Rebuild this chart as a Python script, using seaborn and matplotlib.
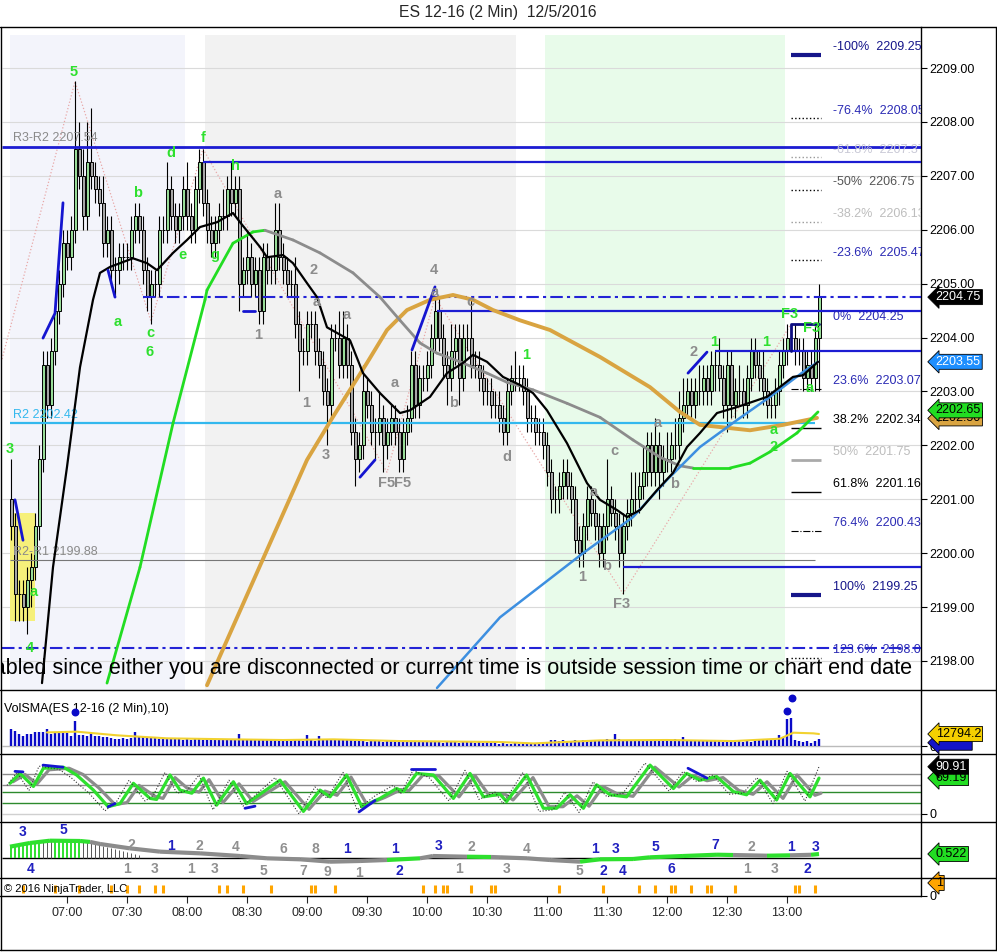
import matplotlib
matplotlib.use("Agg")
import matplotlib.pyplot as plt
import matplotlib.transforms as mtransforms
from matplotlib.lines import Line2D
from matplotlib.ticker import FormatStrFormatter
import numpy as np
import pandas as pd
import seaborn as sns

# ---------------- data (2 min bars 06:32 .. 13:16, index 0..202) ----------------
TICK = 0.25
first_open = 2201.00
closes = [
    2200.50, 2199.25, 2199.25, 2199.00, 2199.50, 2199.75, 2200.50, 2201.75, 2203.50, 2202.75,
    2203.75, 2204.50, 2205.00, 2205.75, 2205.50, 2206.00, 2207.50, 2207.00, 2206.25, 2207.25,
    2207.00, 2206.75, 2206.50, 2205.75, 2206.00, 2205.25, 2205.25, 2205.50, 2205.50, 2205.50,
    2206.00, 2206.25, 2206.00, 2205.25, 2204.75, 2205.00, 2205.00, 2206.00, 2206.00, 2206.75,
    2206.25, 2206.00, 2206.25, 2206.75, 2206.25, 2206.00, 2206.75, 2207.25, 2206.50, 2206.00,
    2205.75, 2206.00, 2206.25, 2206.25, 2206.75, 2206.50, 2206.75, 2205.00, 2205.25, 2205.50,
    2205.00, 2205.25, 2204.50, 2205.50, 2205.25, 2205.25, 2206.00, 2205.50, 2205.25, 2205.00,
    2205.00, 2204.25, 2203.75, 2203.75, 2204.25, 2204.25, 2203.75, 2203.50, 2203.00, 2202.75,
    2204.00, 2204.00, 2203.50, 2204.00, 2203.50, 2202.25, 2201.75, 2202.00, 2203.00, 2202.75,
    2202.25, 2202.25, 2202.50, 2202.00, 2202.25, 2202.50, 2202.25, 2201.75, 2202.25, 2202.50,
    2203.50, 2202.75, 2203.25, 2203.25, 2203.50, 2204.00, 2204.50, 2204.00, 2203.50, 2203.25,
    2203.75, 2204.00, 2203.25, 2204.00, 2204.00, 2203.50, 2203.50, 2203.25, 2203.00, 2203.00,
    2202.75, 2202.75, 2202.50, 2202.25, 2203.00, 2203.25, 2203.25, 2203.25, 2203.00, 2202.50,
    2202.50, 2202.25, 2202.25, 2202.00, 2201.50, 2201.00, 2201.00, 2201.25, 2201.50, 2201.25,
    2201.00, 2200.25, 2200.00, 2200.50, 2201.00, 2200.75, 2200.50, 2200.00, 2200.50, 2201.00,
    2200.75, 2200.50, 2200.00, 2200.50, 2200.75, 2201.00, 2201.00, 2201.25, 2201.50, 2202.00,
    2201.50, 2202.00, 2201.50, 2201.75, 2201.75, 2202.00, 2202.00, 2202.50, 2202.75, 2203.00,
    2202.75, 2203.00, 2203.00, 2203.25, 2203.00, 2203.50, 2203.50, 2203.25, 2202.75, 2203.50,
    2202.75, 2203.00, 2203.00, 2202.75, 2203.25, 2203.75, 2203.50, 2203.25, 2203.00, 2202.75,
    2202.75, 2203.00, 2203.50, 2203.75, 2204.00, 2204.00, 2203.75, 2203.75, 2203.25, 2203.50,
    2203.25, 2204.00, 2204.75,
]
# wick length above / below the body, in ticks
up_ticks = [
    3, 1, 1, 1, 1, 1, 1, 1, 1, 1,  1, 1, 1, 1, 1, 1, 5, 2, 2, 3,
    4, 1, 1, 2, 1, 1, 1, 1, 1, 1,  1, 1, 1, 1, 1, 1, 1, 1, 1, 2,
    1, 1, 1, 1, 2, 1, 1, 1, 1, 1,  1, 1, 1, 2, 1, 2, 1, 1, 1, 2,
    1, 1, 1, 1, 1, 1, 2, 2, 1, 1,  1, 2, 1, 1, 1, 1, 1, 1, 1, 1,
    1, 1, 2, 2, 1, 1, 1, 1, 2, 1,  1, 1, 2, 1, 1, 1, 1, 1, 1, 1,
    1, 1, 1, 1, 1, 1, 1, 1, 1, 1,  2, 1, 1, 1, 1, 3, 1, 1, 1, 1,
    1, 1, 1, 1, 1, 1, 2, 1, 1, 1,  1, 1, 1, 1, 1, 1, 1, 1, 1, 1,
    1, 1, 1, 1, 1, 1, 1, 1, 1, 3,  1, 1, 1, 1, 1, 2, 2, 1, 2, 1,
    1, 2, 1, 1, 2, 1, 2, 2, 2, 1,  1, 1, 2, 1, 1, 1, 1, 2, 1, 1,
    1, 1, 2, 1, 1, 1, 1, 1, 2, 1,  1, 1, 1, 1, 1, 1, 1, 1, 1, 1,
    1, 1, 1,
]
dn_ticks = [
    1, 2, 2, 1, 2, 2, 1, 1, 1, 1,  1, 1, 1, 1, 1, 1, 1, 1, 1, 1,
    1, 1, 1, 1, 1, 1, 2, 1, 1, 1,  1, 1, 1, 1, 1, 2, 1, 1, 1, 1,
    1, 1, 1, 1, 1, 1, 1, 1, 1, 1,  1, 1, 1, 1, 1, 1, 1, 2, 1, 1,
    1, 1, 1, 1, 1, 1, 1, 1, 1, 1,  1, 1, 3, 1, 1, 1, 1, 1, 1, 3,
    1, 1, 1, 1, 1, 1, 2, 1, 1, 1,  1, 2, 1, 2, 1, 1, 1, 1, 1, 1,
    1, 1, 1, 1, 1, 1, 1, 1, 1, 2,  1, 1, 2, 1, 1, 1, 1, 1, 1, 1,
    1, 1, 1, 1, 1, 1, 1, 1, 1, 1,  1, 1, 1, 1, 1, 1, 1, 1, 1, 1,
    1, 1, 1, 1, 1, 1, 1, 1, 1, 1,  1, 1, 1, 3, 1, 1, 1, 1, 1, 1,
    1, 1, 2, 1, 1, 1, 1, 1, 1, 1,  1, 1, 1, 1, 1, 1, 2, 1, 1, 2,
    1, 1, 1, 1, 1, 1, 1, 1, 1, 1,  1, 1, 1, 1, 1, 1, 1, 1, 1, 1,
    1, 1, 4,
]
volume = [
    18100, 16000, 12800, 10700, 12800, 12800, 14900, 14900, 14900, 18100,
    12800, 14900, 14900, 16000, 13900, 10700, 26700, 12000, 11500, 11000,
    12500, 10500, 11000, 10000, 9500, 8500, 7500, 8000, 8500, 7500,
    9000, 14900, 9500, 10000, 8500, 9000, 10000, 8000, 7500, 8500,
    7000, 8000, 7500, 6500, 7000, 6000, 7000, 7500, 6500, 7000,
    6000, 6500, 7000, 6000, 7500, 6500, 7000, 13000, 7500, 7000,
    8000, 7000, 6500, 7000, 6000, 7500, 7000, 6000, 5500, 6500,
    5500, 6000, 6500, 5500, 12000, 6000, 5500, 11000, 7000, 6500,
    8000, 7000, 7500, 6000, 6500, 6000, 5000, 6000, 5500, 4500,
    5500, 5000, 6000, 4500, 5000, 5500, 5000, 4500, 5000, 4000,
    5500, 4500, 5000, 4000, 4500, 5500, 4000, 4500, 3500, 5000,
    4000, 4500, 3500, 4000, 5000, 4500, 3500, 4000, 3000, 4500,
    3500, 4000, 2500, 3000, 2000, 2500, 3000, 2000, 2500, 3500,
    2000, 2500, 3000, 2000, 3500, 6500, 6000, 5500, 6000, 5000,
    5500, 6000, 5000, 6500, 5500, 5000, 6000, 5500, 6000, 7000,
    6000, 12400, 7000, 6500, 6000, 5500, 5000, 6000, 5500, 5000,
    6500, 5500, 5000, 6000, 5500, 6500, 7000, 6000, 10000, 6500,
    5500, 6000, 5000, 6500, 5500, 6000, 5000, 5500, 4500, 6000,
    5000, 4500, 5500, 4000, 5000, 4500, 5500, 6000, 7500, 8000,
    7500, 8500, 11400, 9500, 28400, 30000, 6700, 5300, 4300, 5300,
    3600, 5300, 7500,
]
vol_dot_bar = [16, 194, 195.25]
vol_dot_val = [36200, 37600, 51000]
vsma_bar = [9, 16.4, 26.5, 39, 55.6, 68, 80.6, 97, 122, 130.6, 134.75, 147.25, 164, 180.6, 192.25, 195.6, 200.6, 202]
vsma_val = [14500, 15300, 11400, 8200, 7100, 6400, 7100, 5300, 4300, 2800, 3600, 6000, 6400, 5300, 7800, 14200, 13500, 12800]

# indicator lines (bar index, price)
ema_bar = [7.75, 10.5, 14, 17.25, 20.5, 22.25, 24.75, 30.5, 34, 36.5, 40.5, 44, 47.25, 51.5, 55.5, 57.25,
           62.25, 64, 68, 70.5, 74, 76.5, 79, 84.75, 88, 92.25, 97.25, 99.75, 104.75, 109, 113, 115.5,
           119, 123, 127.25, 130.5, 134, 139, 144, 147.25, 151.5, 154, 157.25, 161.5, 165.5, 169,
           172.25, 176.5, 181.5, 189, 195.5, 198, 201.75]
ema_px = [2197.59, 2199.74, 2201.60, 2203.45, 2204.70, 2205.20, 2205.31, 2205.47, 2205.38, 2205.25,
          2205.57, 2205.81, 2206.05, 2206.14, 2206.31, 2206.14, 2205.68, 2205.49, 2205.53, 2205.38,
          2205.01, 2204.75, 2204.19, 2203.95, 2203.34, 2202.97, 2202.60, 2202.65, 2202.90, 2203.34,
          2203.53, 2203.68, 2203.55, 2203.27, 2203.12, 2202.97, 2202.65, 2202.04, 2201.30, 2200.99,
          2200.80, 2200.67, 2200.80, 2201.17, 2201.49, 2201.97, 2202.23, 2202.60, 2202.71, 2202.90,
          2203.27, 2203.30, 2203.55]
ma_bar = [24, 32.25, 40.5, 48.5, 49, 55.5, 60.5, 63.5, 70.5, 77.25, 85.5, 92.25, 97.25, 102.25, 106.5,
          112.25, 119, 124, 130.5, 139, 147.25, 155.5, 162.25, 167.25, 170.5, 179.75, 184.75, 189.75,
          196.5, 201.75]
ma_px = [2197.59, 2199.74, 2202.41, 2204.70, 2204.88, 2205.75, 2205.96, 2205.99, 2205.81, 2205.57,
         2205.20, 2204.75, 2204.32, 2203.90, 2203.71, 2203.55, 2203.34, 2203.17, 2203.03, 2202.78,
         2202.52, 2202.10, 2201.78, 2201.62, 2201.58, 2201.58, 2201.67, 2201.88, 2202.23, 2202.62]
ma_rising = [1, 1, 1, 1, 1, 1, 1, 0, 0, 0, 0, 0, 0, 0, 0, 0, 0, 0, 0, 0, 0, 0, 0, 0, 1, 1, 1, 1, 1]
gold_bar = [49, 64, 74, 80.5, 89, 94, 99, 104.75, 110.5, 115.5, 120.5, 127.25, 134.75, 147.25,
            159.75, 167.25, 172.25, 184.75, 193, 201.5]
gold_px = [2197.55, 2200.06, 2201.73, 2202.53, 2203.53, 2204.14, 2204.51, 2204.70, 2204.79, 2204.70,
           2204.51, 2204.32, 2204.14, 2203.64, 2203.08, 2202.62, 2202.38, 2202.28, 2202.38, 2202.51]
lb_bar = [106.5, 122.25, 143, 155.5, 164, 172.25, 181.5, 189.75, 198, 201.75]
lb_px = [2197.50, 2198.81, 2200.00, 2200.67, 2201.36, 2201.97, 2202.47, 2202.90, 2203.36, 2203.55]
zig_bar = [-2.25, 16, 35, 48, 94, 106, 153, 195]
zig_px = [2203.60, 2208.75, 2204.30, 2207.50, 2201.50, 2204.75, 2199.25, 2204.25]
trend_segs = [((1, 3), (2200.99, 2200.24)), ((8, 11, 13), (2203.99, 2204.45, 2206.50)),
              ((24.25, 26), (2205.25, 2204.75)), ((58, 61), (2204.49, 2204.49)),
              ((87.25, 91), (2201.41, 2201.73)), ((100.25, 106), (2203.77, 2204.94)),
              ((169.25, 174), (2203.34, 2203.73))]

green_labels = [("5", 15.75, 2208.93), ("3", -0.25, 2201.93), ("a", 5.75, 2199.28), ("4", 4.75, 2198.24),
                ("a", 26.75, 2204.29), ("c", 34.75, 2204.08), ("6", 34.75, 2203.73), ("b", 31.75, 2206.68),
                ("d", 40, 2207.42), ("e", 42.75, 2205.53), ("f", 48, 2207.70), ("g", 51, 2205.53),
                ("h", 56, 2207.18), ("1", 128.75, 2203.68), ("1", 175.75, 2203.92), ("1", 188.75, 2203.92),
                ("F3", 194.75, 2204.44), ("F3", 200.25, 2204.18), ("a", 199.75, 2203.06),
                ("a", 190.75, 2202.28), ("2", 190.75, 2201.97)]
gray_labels = [("a", 66.75, 2206.66), ("2", 75.75, 2205.25), ("a", 76.5, 2204.66), ("1", 61.75, 2204.05),
               ("a", 84, 2204.42), ("1", 73.75, 2202.79), ("3", 78.75, 2201.82), ("a", 96, 2203.16),
               ("F5", 94, 2201.30), ("F5", 98, 2201.30), ("4", 105.75, 2205.25), ("a", 106, 2204.84),
               ("c", 114.75, 2204.66), ("b", 110.75, 2202.79), ("d", 124, 2201.78), ("c", 150.75, 2201.90),
               ("a", 145.75, 2201.13), ("1", 142.75, 2199.56), ("b", 149, 2199.76), ("F3", 152.75, 2199.06),
               ("a", 161.75, 2202.41), ("b", 166, 2201.28), ("2", 170.75, 2203.73)]

NAVY, FIBBLUE = "#16168a", "#2a2ab4"
fib_text = [("-100%  2209.25", 2209.39, NAVY), ("-76.4%  2208.05", 2208.20, FIBBLUE),
            ("-61.8%  2207.37", 2207.48, "#c9c9d6"), ("-50%  2206.75", 2206.88, "#555555"),
            ("-38.2%  2206.13", 2206.29, "#bdbdbd"), ("-23.6%  2205.47", 2205.57, FIBBLUE),
            ("0%  2204.25", 2204.38, FIBBLUE), ("23.6%  2203.07", 2203.19, FIBBLUE),
            ("38.2%  2202.34", 2202.47, "black"), ("50%  2201.75", 2201.88, "#bdbdbd"),
            ("61.8%  2201.16", 2201.28, "black"), ("76.4%  2200.43", 2200.56, FIBBLUE),
            ("100%  2199.25", 2199.37, NAVY), ("123.6%  2198.07", 2198.20, FIBBLUE)]
fib_marks = [(2209.24, "-", NAVY, 3), (2208.07, ":", "black", 1), (2207.35, ":", "#999999", 1),
             (2206.74, ":", "black", 1), (2206.14, ":", "#999999", 1), (2205.44, ":", "black", 1),
             (2203.04, "-.", "black", 0.8), (2202.32, "-", "black", 1), (2201.73, "-", "#aaaaaa", 2),
             (2201.13, "-", "black", 1), (2200.41, "-.", "black", 0.8), (2199.22, "-", NAVY, 3),
             (2198.05, ":", "black", 1)]

# stochastics (bar, value)
st_green_bar = [-0.25, 2.25, 5.6, 8.1, 13.1, 16.4, 20.6, 24.3, 27.25, 30.6, 34.75, 36.4, 39.75, 42.25, 45.2,
                48.1, 51.4, 55.6, 58.9, 67.25, 73.1, 77.25, 79.75, 83.9, 87.7, 92.25, 96.4, 98.1, 101.4,
                105.6, 110.6, 114.75, 118.1, 122.25, 123.9, 128.9, 133.1, 136.4, 139.75, 143.1, 146.4,
                149.75, 153.9, 159.75, 165.6, 168.9, 172.25, 176.4, 180.6, 183.9, 187.25, 191.4, 194.75,
                199.75, 202]
st_green = [59, 78, 53, 88, 90, 75, 46, 14, 20, 59, 30, 28, 75, 46, 40, 69, 17, 62, 20, 65, 5, 46, 33, 75,
            14, 30, 49, 43, 78, 75, 30, 78, 33, 38, 24, 75, 11, 11, 37, 11, 56, 37, 33, 94, 49, 78, 65, 72,
            43, 37, 65, 27, 78, 33, 69]
st_gray_bar = [0.5, 3.5, 6.5, 9.5, 14.5, 18, 22, 26, 29, 32, 36, 38, 41, 44, 47, 49.5, 53, 57, 60.5, 68.5,
               74.5, 78.5, 81.5, 85, 89, 93.5, 97.5, 99.5, 103, 107, 112, 116, 119.5, 123.5, 125.5, 130.5,
               134.5, 138, 141.5, 144.5, 148, 151.5, 155.5, 161, 167, 170.5, 174, 178, 182, 185.5, 189,
               193, 196.5, 201, 202.5]
st_gray = [62, 76, 58, 85, 88, 76, 50, 18, 22, 55, 34, 30, 70, 50, 42, 66, 22, 58, 24, 62, 9, 44, 36, 71,
           18, 32, 47, 45, 75, 73, 33, 74, 36, 38, 27, 70, 14, 14, 35, 15, 53, 39, 34, 90, 52, 74, 64, 70,
           45, 38, 62, 30, 75, 36, 40]
st_fast_bar = [-1, 1.5, 4.5, 7, 12, 15, 19.5, 23.5, 26.5, 29.5, 33.5, 35.5, 38.5, 41.5, 44, 47, 50.5, 54.5,
               58, 66, 72, 76, 79, 83, 86.5, 91, 95.5, 97.5, 100.5, 104.5, 109.5, 113.5, 117, 121, 123, 128,
               132, 135.5, 138.5, 142, 145.5, 149, 153, 158.5, 164.5, 168, 171.5, 175.5, 179.5, 183, 186.5,
               190.5, 194, 198.5, 202]
st_fast = [55, 80, 45, 92, 86, 70, 40, 6, 25, 65, 25, 35, 80, 40, 45, 75, 8, 65, 15, 70, 0, 52, 30, 80, 8,
           35, 55, 40, 84, 70, 25, 84, 28, 42, 20, 80, 5, 8, 42, 3, 62, 33, 40, 98, 44, 82, 62, 75, 38, 40,
           70, 20, 82, 25, 91]
st_blue = [((1, 3), (82, 81)), ((8, 13), (94, 90)), ((24.3, 26), (14, 20)), ((58.5, 61), (11, 15)),
           ((87, 91), (4, 26)), ((100, 106), (86, 86)), ((169.25, 174), (88, 69))]
st_levels = [(77.5, "#8a8a8a"), (56, "#8a8a8a"), (43, "#2d8a2d"), (21, "#2d8a2d"), (0, "#d0d0d0")]

# third panel oscillator (bar, value)
osc_bar = [-0.25, 4.75, 9.75, 17.25, 19.75, 22.25, 29.75, 37.25, 47.25, 57.25, 64, 72.25, 79.75, 87.25,
           94, 102.25, 105.5, 114, 120, 122.25, 129, 134.75, 142.25, 147.25, 155.5, 159.75, 168, 176.5,
           180.5, 189, 194.75, 200, 202]
osc_val = [1.48, 1.96, 2.26, 2.22, 2.10, 1.83, 1.26, 0.83, 0.61, 0.26, -0.04, -0.17, -0.48, -0.39, -0.26,
           -0.04, 0.26, 0.17, 0.13, 0.09, -0.04, -0.26, -0.48, -0.17, -0.13, 0.09, 0.26, 0.43, 0.39, 0.30,
           0.35, 0.42, 0.52]
osc_seg_green = [1, 1, 1, 1, 0, 0, 0, 0, 0, 0, 0, 0, 0, 0, 1, 0, 0, 1, 0, 0, 0, 0, 1, 1, 1, 1, 1, 1, 0, 1, 0, 1]
osc_hist = [1.4, 1.7, 1.9, 2.0, 2.0, 2.1, 2.2, 2.3, 2.3, 2.4, 2.4, 2.5, 2.4, 2.4, 2.5, 2.4, 2.4, 2.3, 2.2,
            2.1, 2.0, 1.9, 1.8, 1.6, 1.5, 1.3, 1.2, 1.0, 0.9, 0.8, 0.6, 0.5, 0.4]
osc_hist_green = [1, 1, 1, 1, 1, 1, 1, 1, 0, 0, 0, 1, 1, 1, 1, 1, 1, 1] + [0] * 15
wave_counts = [("3", 3, 3.39, "b"), ("5", 13, 3.65, "b"), ("2", 30, 1.70, "g"), ("1", 40, 1.57, "b"),
               ("2", 47, 1.57, "g"), ("4", 56.25, 1.44, "g"), ("6", 68, 1.17, "g"), ("8", 76, 1.17, "g"),
               ("1", 84, 1.17, "b"), ("1", 96, 1.17, "b"), ("3", 107, 1.57, "b"), ("2", 115, 1.44, "g"),
               ("4", 129, 1.17, "g"), ("1", 146, 1.17, "b"), ("3", 151.25, 1.17, "b"), ("5", 161, 1.44, "b"),
               ("7", 176, 1.70, "b"), ("2", 185, 1.44, "g"), ("1", 195, 1.44, "b"), ("3", 201.25, 1.44, "b"),
               ("4", 5, -1.44, "b"), ("1", 29, -1.44, "g"), ("3", 36, -1.44, "g"), ("1", 45, -1.44, "g"),
               ("3", 51, -1.44, "g"), ("5", 63, -1.70, "g"), ("7", 73, -1.70, "g"), ("9", 79, -1.83, "g"),
               ("1", 87, -1.96, "g"), ("2", 97, -1.70, "b"), ("1", 112, -1.44, "g"), ("3", 124, -1.44, "g"),
               ("5", 142, -1.70, "g"), ("2", 148, -1.70, "b"), ("4", 153, -1.70, "b"), ("6", 165, -1.44, "b"),
               ("1", 184, -1.44, "g"), ("3", 191, -1.44, "g"), ("2", 199, -1.44, "b")]

signal_bars = [3, 11, 17, 25, 29, 32, 36, 38, 52, 54, 58, 65, 75, 76, 81, 103, 106, 108, 109, 115, 120, 121,
               137, 148, 157, 161, 165, 166, 170, 174, 175, 181, 196, 197, 201]

time_ticks = [14, 29, 44, 59, 74, 89, 104, 119, 134, 149, 164, 179, 194]
time_labels = ["07:00", "07:30", "08:00", "08:30", "09:00", "09:30", "10:00", "10:30", "11:00",
               "11:30", "12:00", "12:30", "13:00"]

# ---------------- figure ----------------
sns.set_style("white")
plt.rcParams["font.family"] = ["Liberation Sans", "DejaVu Sans"]

W, H = 997, 952
fig = plt.figure(figsize=(W / 100, H / 100), dpi=100)
XLIM = (-2.25, 227.5)


def panel(top, bottom):
    ax = fig.add_axes([2 / W, 1 - bottom / H, 919 / W, (bottom - top) / H])
    ax.set_xlim(*XLIM)
    ax.set_facecolor("white")
    for s in ("top", "left", "bottom"):
        ax.spines[s].set_visible(False)
    ax.spines["right"].set_color("black")
    ax.spines["right"].set_linewidth(1)
    ax.yaxis.tick_right()
    ax.tick_params(axis="y", direction="out", length=4, width=0.8, labelsize=9, pad=2, colors="black")
    ax.tick_params(axis="x", bottom=False, labelbottom=False)
    return ax


def fig_line(xs, ys, **kw):
    fig.add_artist(Line2D([x / W for x in xs], [1 - y / H for y in ys], transform=fig.transFigure,
                          color="black", lw=1, **kw))


def value_tag(ax, val, txt, fc, tc):
    trans = mtransforms.blended_transform_factory(ax.transAxes, ax.transData)
    ax.text(1.016, val, txt, transform=trans, ha="left", va="center", fontsize=9, color=tc,
            clip_on=False, zorder=30,
            bbox=dict(boxstyle="larrow,pad=0.12", fc=fc, ec="black", lw=0.6))


n = len(closes)
bars = pd.DataFrame({"bar": np.arange(n), "close": closes})
bars["open"] = [first_open] + closes[:-1]
bars["high"] = np.maximum(bars.open, bars.close) + np.array(up_ticks) * TICK
bars["low"] = np.minimum(bars.open, bars.close) - np.array(dn_ticks) * TICK

# ---- price panel ----
ax = panel(27, 690)
ax.set_ylim(2197.462, 2209.761)
ax.set_yticks(range(2198, 2210))
ax.yaxis.set_major_formatter(FormatStrFormatter("%.2f"))

shade_top = 0.988
ax.axvspan(-0.25, 43.5, ymax=shade_top, color="#f3f4fb", lw=0, zorder=0)
ax.axvspan(48.5, 126.25, ymax=shade_top, color="#f2f2f2", lw=0, zorder=0)
ax.axvspan(133.5, 193.5, ymax=shade_top, color="#e8fbea", lw=0, zorder=0)
ax.hlines(range(2198, 2210), *XLIM, color="#dadada", lw=0.8, zorder=1)
ax.fill_between([-0.25, 6.0], 2198.74, 2200.74, color="#f6f07a", lw=0, zorder=1)

sns.lineplot(x=zig_bar, y=zig_px, ax=ax, color="#e8a8a8", lw=0.9, linestyle=":", sort=False,
             estimator=None, legend=False, zorder=2)

# pivot lines
ax.hlines(2207.54, *XLIM, color="#1c1cd2", lw=2, zorder=6)
ax.hlines(2207.25, 48, XLIM[1], color="#1c1cd2", lw=1.6, zorder=6)
ax.hlines(2204.75, 33, XLIM[1], color="#2323d6", lw=1.5, linestyles=(0, (6, 2, 1.5, 2)), zorder=6)
ax.hlines(2204.50, 106.5, XLIM[1], color="#1c1cd2", lw=1.6, zorder=6)
ax.hlines(2203.75, 176, XLIM[1], color="#1c1cd2", lw=1.6, zorder=6)
ax.hlines(2199.75, 153, XLIM[1], color="#1c1cd2", lw=1.6, zorder=6)
ax.hlines(2198.25, *XLIM, color="#2323d6", lw=1.5, linestyles=(0, (6, 2, 1.5, 2)), zorder=6)
ax.hlines(2202.42, -0.25, 201, color="#33b8ee", lw=1.6, zorder=6)
ax.hlines(2199.88, -0.25, 201, color="#777777", lw=0.8, zorder=6)
ax.plot([195, 195, 202], [2203.75, 2204.25, 2204.25], color="#0d0d80", lw=2, zorder=7)

ax.text(0.5, 2207.70, "R3-R2 2207.54", color="#8a8a8a", fontsize=9, va="center", zorder=8)
ax.text(0.5, 2202.56, "R2 2202.42", color="#33b8ee", fontsize=9, va="center", zorder=8)
ax.text(0.5, 2200.02, "R2-R1 2199.88", color="#8a8a8a", fontsize=9, va="center", zorder=8)
ax.text(0.5, 2197.35, "R1 2197.33", color="#33b8ee", fontsize=9, va="center", zorder=8, clip_on=True)

# candles
up = bars.close > bars.open
ax.vlines(bars.bar, bars.low, bars.high, color="black", lw=0.8, zorder=4)
ax.bar(bars.bar, (bars.close - bars.open).abs(), bottom=np.minimum(bars.open, bars.close), width=0.75,
       color=np.where(up, "#98dc98", "#a6a6a6"), edgecolor="black", linewidth=0.7, zorder=5)

# moving averages
sns.lineplot(x=gold_bar, y=gold_px, ax=ax, color="#d9a441", lw=2.8, sort=False, estimator=None,
             legend=False, zorder=7)
for i in range(len(ma_bar) - 1):
    ax.plot(ma_bar[i:i + 2], ma_px[i:i + 2], color="#22dd22" if ma_rising[i] else "#8c8c8c",
            lw=2, zorder=7, solid_capstyle="round")
sns.lineplot(x=lb_bar, y=lb_px, ax=ax, color="#3d8fe0", lw=1.8, sort=False, estimator=None,
             legend=False, zorder=7)
sns.lineplot(x=ema_bar, y=ema_px, ax=ax, color="black", lw=1.6, sort=False, estimator=None,
             legend=False, zorder=8)
for xs, ys in trend_segs:
    ax.plot(xs, ys, color="#1515d0", lw=2, zorder=8)

for txt, bx, py in green_labels:
    ax.text(bx, py, txt, color="#2ee02e", fontsize=10.5, fontweight="bold", ha="center", va="center",
            zorder=9)
for txt, bx, py in gray_labels:
    ax.text(bx, py, txt, color="#8c8c8c", fontsize=10.5, fontweight="bold", ha="center", va="center",
            zorder=9)

# fib levels
for price, ls, col, lw in fib_marks:
    ax.hlines(price, 195, 202.5, color=col, lw=lw, linestyles=ls, zorder=6)
for txt, price, col in fib_text:
    ax.text(205.5, price, txt, color=col, fontsize=9, va="center", ha="left", zorder=9, clip_on=True)

ax.text(225.25, 2197.87, "disabled since either you are disconnected or current time is outside "
        "session time or chart end date", fontsize=15.6, ha="right", va="center", color="black",
        zorder=10, clip_on=True)

value_tag(ax, 2204.75, "2204.75", "black", "white")
value_tag(ax, 2203.55, "2203.55", "#1e8fff", "white")
value_tag(ax, 2202.50, "2202.50", "#d9a441", "black")
value_tag(ax, 2202.65, "2202.65", "#22dd22", "black")

# ---- volume panel ----
axv = panel(690, 754)
axv.set_ylim(-8500, 59700)
axv.set_yticks([0])
axv.hlines(0, *XLIM, color="#bbbbbb", lw=1, zorder=1)
axv.vlines(bars.bar, 0, volume, color="#0a0ac8", lw=1.7, zorder=3)
sns.lineplot(x=vsma_bar, y=vsma_val, ax=axv, color="#f2d230", lw=1.5, sort=False, estimator=None,
             legend=False, zorder=4)
axv.scatter(vol_dot_bar, vol_dot_val, s=22, color="#0a0ac8", zorder=5)
axv.text(-1.75, 39400, "VolSMA(ES 12-16 (2 Min),10)", fontsize=9, va="center", color="black")
value_tag(axv, 3500, "          ", "#1414c8", "white")
value_tag(axv, 12794.2, "12794.2", "#f5d000", "black")

# ---- stochastics panel ----
axs = panel(754, 822)
axs.set_ylim(-15.4, 115.4)
axs.set_yticks([0])
for lvl, col in st_levels:
    axs.hlines(lvl, *XLIM, color=col, lw=1, zorder=1)
sns.lineplot(x=st_gray_bar, y=st_gray, ax=axs, color="#8c8c8c", lw=2.3, sort=False, estimator=None,
             legend=False, zorder=3)
sns.lineplot(x=st_green_bar, y=st_green, ax=axs, color="#2ee02e", lw=2.3, sort=False, estimator=None,
             legend=False, zorder=4)
sns.lineplot(x=st_fast_bar, y=st_fast, ax=axs, color="#333333", lw=0.8, linestyle=":", sort=False,
             estimator=None, legend=False, zorder=5)
for xs, ys in st_blue:
    axs.plot(xs, ys, color="#1515d0", lw=2, zorder=6)
value_tag(axs, 69.19, "69.19", "#22dd22", "black")
value_tag(axs, 90.91, "90.91", "black", "white")

# ---- oscillator panel ----
axo = panel(822, 878)
axo.set_ylim(-2.61, 4.70)
axo.set_yticks([])
axo.hlines(0, *XLIM, color="black", lw=1, zorder=1)
for i, h in enumerate(osc_hist):
    axo.vlines(i, 0, h, color="#2ee02e" if osc_hist_green[i] else "#555555",
               lw=1.4 if osc_hist_green[i] else 0.7, zorder=2)
for i in range(len(osc_bar) - 1):
    axo.plot(osc_bar[i:i + 2], osc_val[i:i + 2], color="#2ee02e" if osc_seg_green[i] else "#8c8c8c",
             lw=3, zorder=3, solid_capstyle="butt")
for txt, bx, v, c in wave_counts:
    axo.text(bx, v, txt, color="#2020c0" if c == "b" else "#909090", fontsize=10, fontweight="bold",
             ha="center", va="center", zorder=5, clip_on=True)
value_tag(axo, 0.522, "0.522", "#22dd22", "black")

# ---- signal panel + time axis ----
axg = panel(878, 896)
axg.set_ylim(0, 1.38)
axg.set_yticks([0])
axg.vlines(signal_bars, 0.23, 0.85, color="#ffa500", lw=2.2, zorder=2)
axg.text(-1.75, 0.5, "© 2016 NinjaTrader, LLC", fontsize=8, va="center", color="black", zorder=3)
value_tag(axg, 1, "1", "#ffa500", "black")
axg.set_xticks(time_ticks)
axg.set_xticklabels(time_labels)
axg.tick_params(axis="x", bottom=True, labelbottom=True, direction="out", length=5, width=0.8,
                labelsize=9, pad=3)

# frame and panel separators
fig_line([0, 996], [27, 27])
for y in (690, 754, 822, 878):
    fig_line([0, 996], [y, y])
fig_line([0, 921], [896, 896])
fig_line([0, 996], [950, 950])
fig_line([0.5, 0.5], [27, 950])
fig_line([996, 996], [27, 950])

fig.text(498 / W, 1 - 13 / H, "ES 12-16 (2 Min)  12/5/2016", ha="center", va="center", fontsize=11.3)

fig.savefig("out.png", dpi=100)
